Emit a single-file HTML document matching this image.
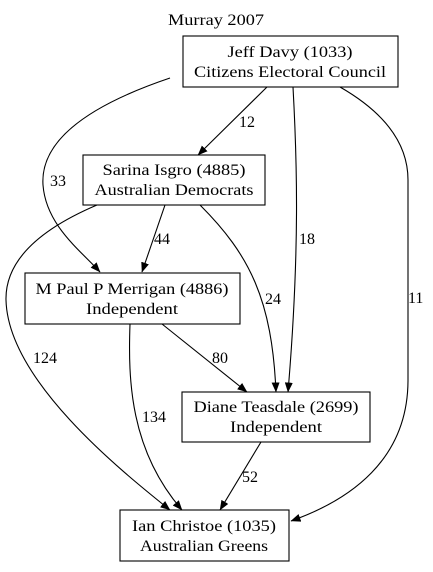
<!DOCTYPE html>
<html><head><style>
html,body{margin:0;padding:0;background:#fff;}
text{font-family:"Liberation Serif","Times New Roman","DejaVu Serif",serif;font-size:16px;fill:#000;}
</style></head><body>
<svg width="433" height="567" viewBox="0 0 433 567" xmlns="http://www.w3.org/2000/svg" font-family="Liberation Serif, Times New Roman, serif" font-size="16">
<defs><marker id="a" markerWidth="10" markerHeight="8" refX="9.5" refY="4" orient="auto" markerUnits="userSpaceOnUse"><path d="M0,0 L10,4 L0,8 Z" fill="#000"/></marker></defs>
<text x="216" y="25" text-anchor="middle" textLength="96" lengthAdjust="spacingAndGlyphs">Murray 2007</text>
<g fill="none" stroke="#000" stroke-width="1.1">
<rect x="183" y="36" width="215" height="51"/>
<rect x="83" y="155" width="182" height="50"/>
<rect x="25" y="273" width="215" height="51"/>
<rect x="182" y="392" width="188" height="50"/>
<rect x="120" y="510" width="169" height="51"/>
<g marker-end="url(#a)">
<path d="M267,87 L198,155"/>
<path d="M170,78 C90,105 40,140 43,185 C46,225 80,250 100,272"/>
<path d="M293,87 C297,160 300,250 288,392"/>
<path d="M340,87 C380,110 408,140 408,180 L408,380 C408,460 350,500 291,521"/>
<path d="M165,205 L142,272"/>
<path d="M97,205 C50,225 5,255 6,300 C8,380 120,470 170,510"/>
<path d="M200,205 C250,255 272,300 276,392"/>
<path d="M162,324 L247,392"/>
<path d="M130,324 C128,380 130,450 182,510"/>
<path d="M261,442 L220,510"/>
</g></g>
<g text-anchor="middle">
<text x="290" y="57" textLength="125" lengthAdjust="spacingAndGlyphs">Jeff Davy (1033)</text>
<text x="290" y="77" textLength="192" lengthAdjust="spacingAndGlyphs">Citizens Electoral Council</text>
<text x="174" y="175" textLength="143" lengthAdjust="spacingAndGlyphs">Sarina Isgro (4885)</text>
<text x="174" y="195" textLength="159" lengthAdjust="spacingAndGlyphs">Australian Democrats</text>
<text x="132" y="294" textLength="193" lengthAdjust="spacingAndGlyphs">M Paul P Merrigan (4886)</text>
<text x="132" y="314" textLength="92" lengthAdjust="spacingAndGlyphs">Independent</text>
<text x="276" y="412" textLength="165" lengthAdjust="spacingAndGlyphs">Diane Teasdale (2699)</text>
<text x="276" y="432" textLength="92" lengthAdjust="spacingAndGlyphs">Independent</text>
<text x="204" y="531" textLength="144" lengthAdjust="spacingAndGlyphs">Ian Christoe (1035)</text>
<text x="204" y="551" textLength="128" lengthAdjust="spacingAndGlyphs">Australian Greens</text>
</g>
<text x="239" y="127">12</text>
<text x="50" y="186">33</text>
<text x="299" y="244">18</text>
<text x="408" y="303">11</text>
<text x="154" y="244">44</text>
<text x="33" y="363">124</text>
<text x="265" y="304">24</text>
<text x="212" y="363">80</text>
<text x="142" y="422">134</text>
<text x="242" y="482">52</text>
</svg>
</body></html>
